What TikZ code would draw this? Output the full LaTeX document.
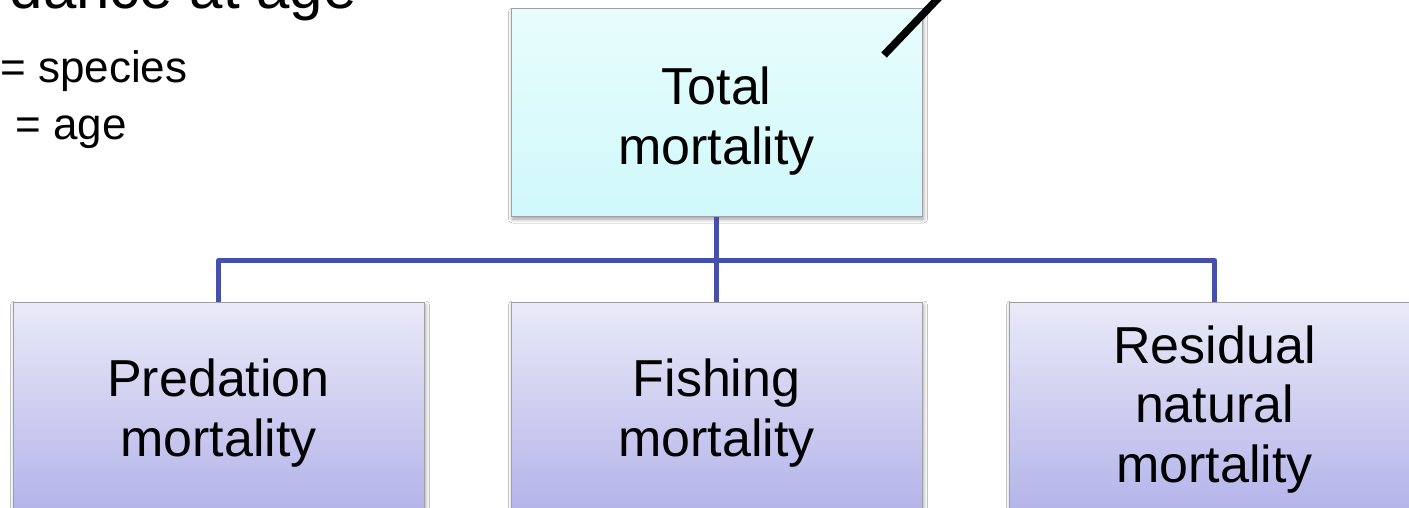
\documentclass[tikz,border=0pt]{standalone}
\usepackage{fontspec}
\setmainfont{Liberation Sans}
\usetikzlibrary{shadows.blur}
\definecolor{linkblue}{RGB}{68,80,172}
\definecolor{boxedge}{RGB}{160,160,165}
\definecolor{cyantop}{RGB}{232,253,253}
\definecolor{cyanbot}{RGB}{208,248,250}
\definecolor{lavtop}{RGB}{234,234,248}
\definecolor{lavbot}{RGB}{180,180,234}
\begin{document}
\begin{tikzpicture}[x=1pt,y=-1pt,
  box/.style={draw=boxedge, line width=1pt, minimum width=411pt,
    minimum height=207pt, inner sep=0pt,
    blur shadow={shadow xshift=1.5pt, shadow yshift=-3pt,
      shadow blur radius=4pt, shadow opacity=40}},
  topbox/.style={box, top color=cyantop, bottom color=cyanbot},
  subbox/.style={box, top color=lavtop, bottom color=lavbot},
  lbl/.style={align=center, inner sep=0pt,
    font=\fontsize{52}{60}\selectfont},
  note/.style={inner sep=0pt, anchor=base west,
    font=\fontsize{44}{50}\selectfont},
  link/.style={draw=linkblue, line width=5pt, line join=round},
  pointer/.style={draw=black, line width=7.5pt}]
\useasboundingbox (0,0) rectangle (1409,508);
\clip (0,0) rectangle (1409,508);
\fill[white] (0,0) rectangle (1409,508);

% heading and symbol key
\node[inner sep=0pt, anchor=base east, font=\fontsize{60}{66}\selectfont]
  (head) at (357,9) {dance at age};
\node[note] (keys) at (0,83) {= species};
\node[note] (keya) at (15,140) {= age};

% boxes
\node[topbox] (total) at (716.5,112.5) {};
\node[subbox] (pred) at (218.5,405.5) {};
\node[subbox] (fish) at (716.5,405.5) {};
\node[subbox] (resid) at (1214.5,405.5) {};

% tree connectors
\coordinate (hub) at (716.5,260.5);
\draw[link] (total.south) -- (fish.north);
\draw[link] (pred.north) -- (pred.north |- hub) -- (resid.north |- hub)
  -- (resid.north);

% box labels
\node[lbl] (ltotal) at (716.5,121.5) {Total\\mortality};
\node[lbl] (lpred) at (218.5,413.5) {Predation\\mortality};
\node[lbl] (lfish) at (716.5,413.5) {Fishing\\mortality};
\node[lbl, font=\fontsize{52}{59.5}\selectfont] (lresid) at (1214.5,409.5)
  {Residual\\natural\\mortality};

% pointer stroke
\coordinate (pa) at (884,55);
\coordinate (pb) at (948,-12);
\draw[pointer] (pa) -- (pb);
\end{tikzpicture}
\end{document}
